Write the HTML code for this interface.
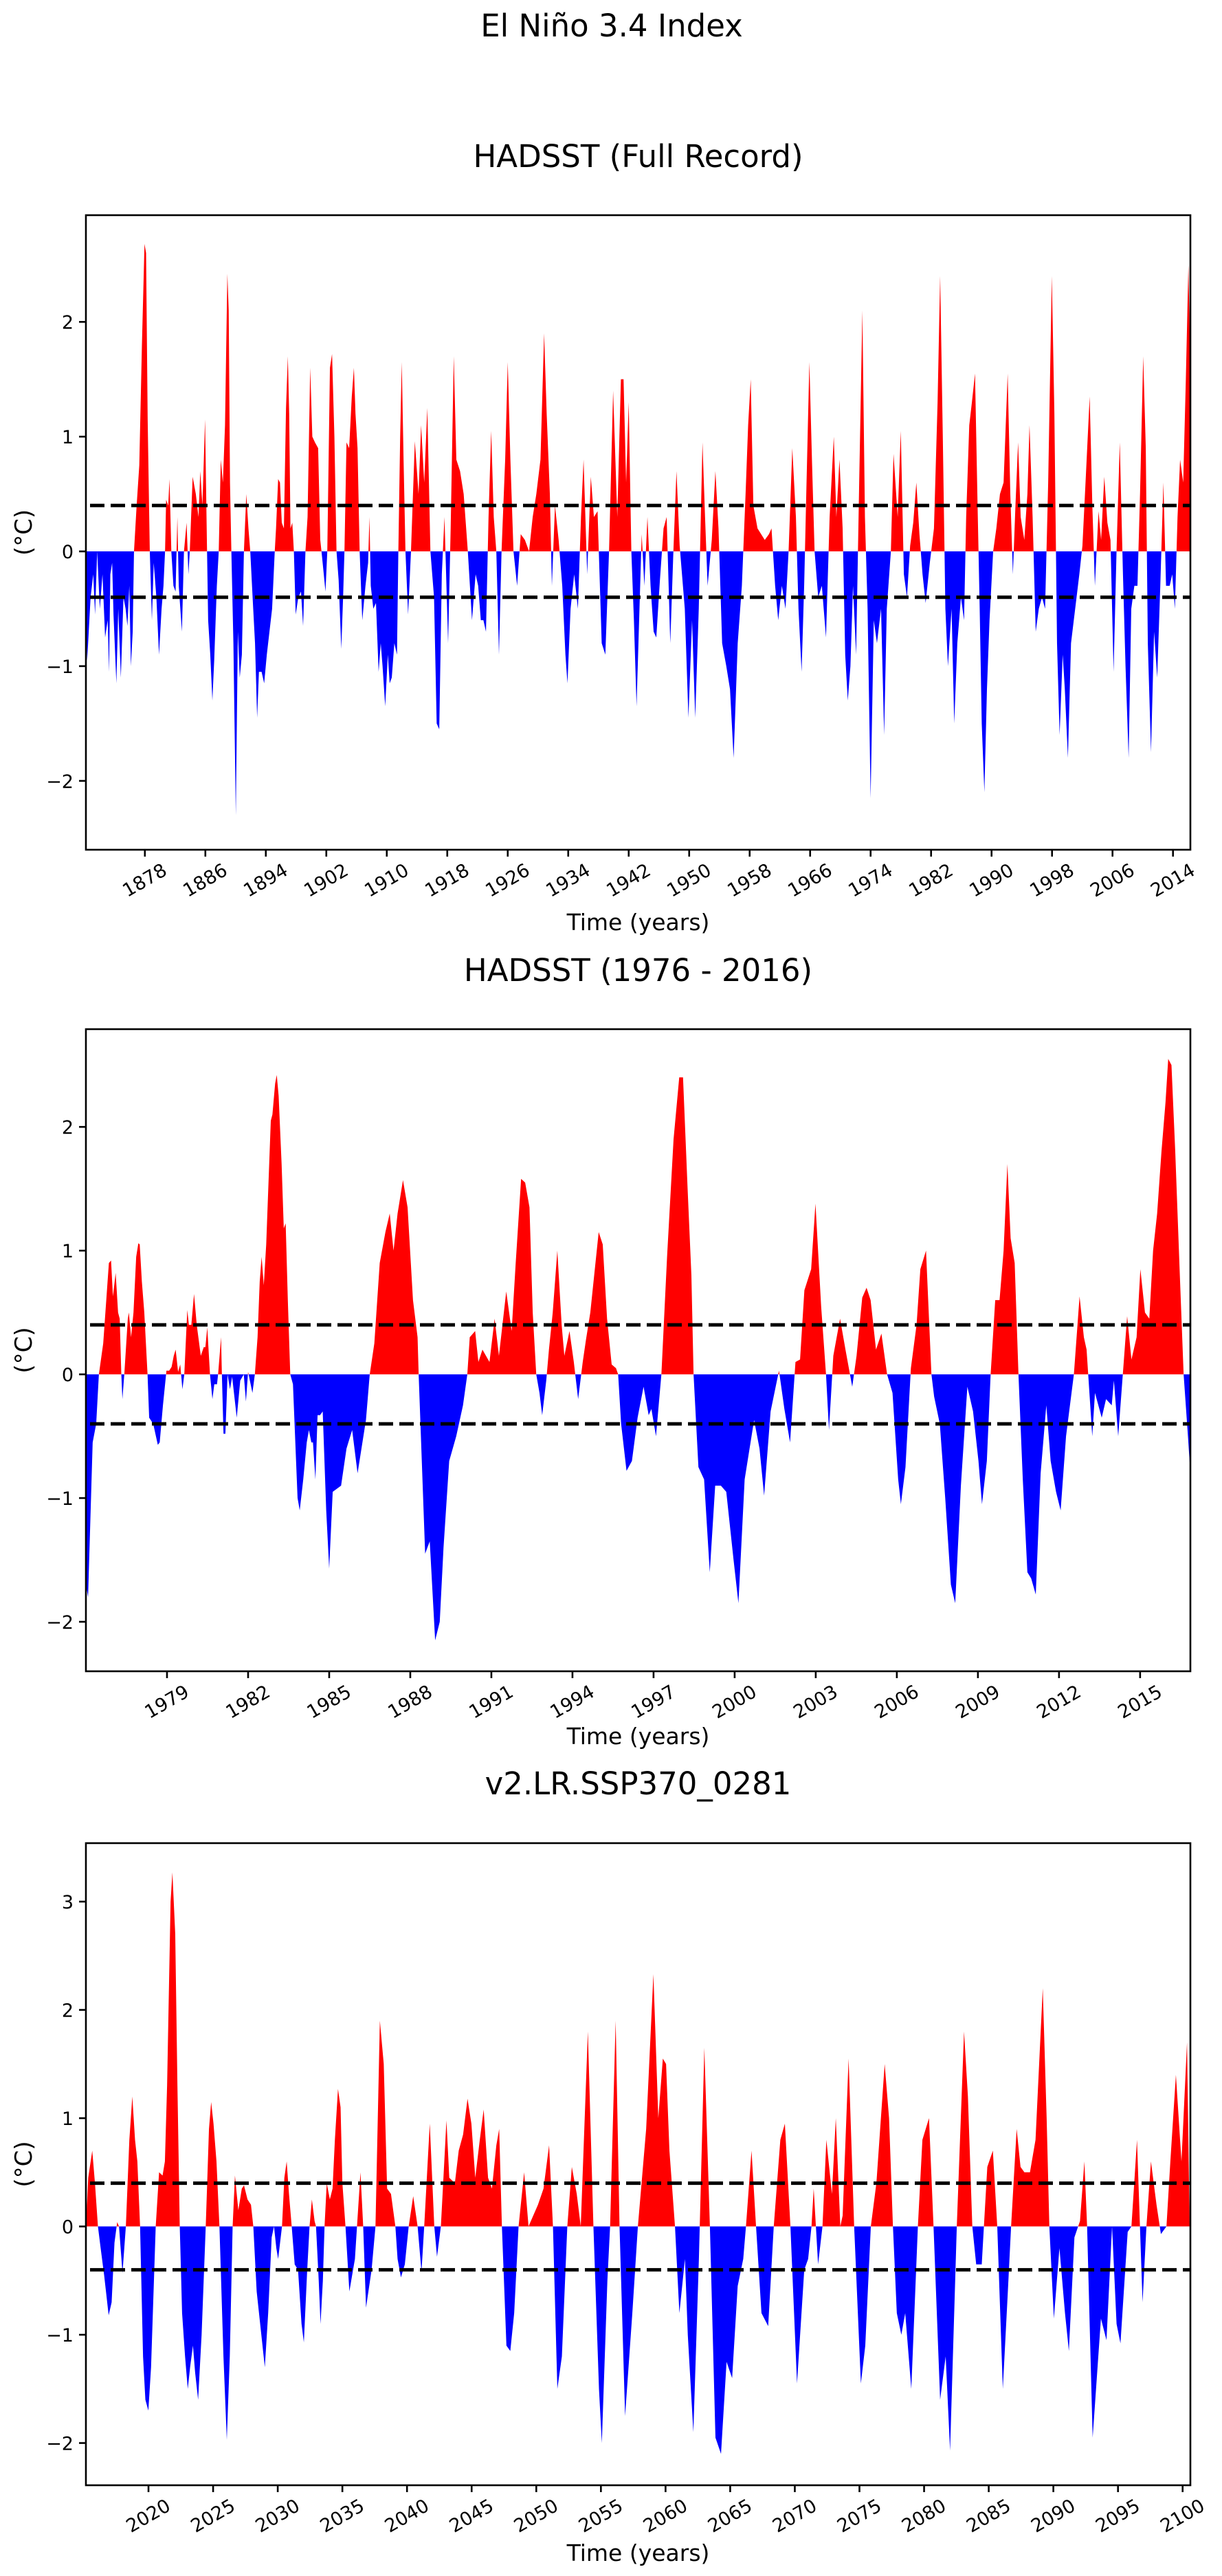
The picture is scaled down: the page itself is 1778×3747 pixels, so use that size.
<!DOCTYPE html>
<html>
<head>
<meta charset="utf-8">
<style>
  html, body { margin: 0; padding: 0; background: #fff; }
  svg { display: block; font-family: "DejaVu Sans", "Liberation Sans", sans-serif; }
</style>
</head>
<body>
<svg id="fig" width="1778" height="3747" viewBox="0 0 1778 3747" xmlns="http://www.w3.org/2000/svg">
  <rect x="0" y="0" width="1778" height="3747" fill="#fff"/>
  <text x="890" y="53" font-size="45" text-anchor="middle">El Niño 3.4 Index</text>
</svg>
<script>
// ---------- Panel 1: HADSST full record ----------
const p1Years = [1870.16,1870.37,1870.82,1871.17,1871.41,1871.69,1872.04,1872.39,1872.74,1873.08,1873.26,1873.43,1873.67,1873.85,1874.23,1874.48,1874.82,1875.17,1875.45,1875.69,1875.94,1876.15,1876.39,1876.56,1876.91,1877.26,1877.61,1877.95,1878.16,1878.37,1878.65,1878.93,1879.17,1879.52,1879.87,1880.21,1880.46,1880.67,1880.81,1881.09,1881.26,1881.5,1881.78,1882.06,1882.3,1882.48,1882.9,1883.17,1883.52,1883.76,1883.94,1884.32,1884.74,1885.09,1885.33,1885.61,1885.96,1886.2,1886.37,1886.65,1886.93,1887.17,1887.52,1887.77,1888.04,1888.32,1888.6,1888.91,1889.09,1889.26,1889.44,1889.71,1890.03,1890.3,1890.55,1890.83,1891.1,1891.42,1891.7,1891.94,1892.29,1892.57,1892.85,1893.09,1893.44,1893.78,1894.13,1894.48,1894.83,1895.18,1895.35,1895.63,1895.87,1896.11,1896.39,1896.67,1896.91,1897.09,1897.26,1897.5,1897.71,1897.95,1898.3,1898.65,1898.93,1899.24,1899.52,1899.87,1900.15,1900.5,1900.92,1901.2,1901.44,1901.89,1902.13,1902.48,1902.76,1903.07,1903.35,1903.63,1903.98,1904.22,1904.4,1904.67,1905.02,1905.37,1905.65,1905.86,1906.13,1906.41,1906.76,1907.18,1907.53,1907.71,1907.88,1908.22,1908.57,1908.92,1909.2,1909.44,1909.79,1910.14,1910.38,1910.66,1911.0,1911.35,1911.53,1911.77,1911.98,1912.22,1912.47,1912.82,1913.2,1913.71,1914.2,1914.54,1914.95,1915.36,1915.77,1916.25,1916.6,1916.94,1917.28,1917.63,1918.11,1918.45,1918.86,1919.2,1919.69,1920.17,1920.72,1921.27,1921.75,1922.09,1922.44,1922.78,1923.12,1923.46,1923.81,1924.15,1924.49,1924.84,1925.18,1925.66,1926.0,1926.35,1926.76,1927.24,1927.72,1928.27,1928.82,1929.3,1929.78,1930.33,1930.81,1931.15,1931.57,1931.84,1932.25,1932.73,1933.21,1933.63,1933.9,1934.31,1934.79,1935.28,1935.69,1936.03,1936.51,1936.99,1937.4,1937.88,1938.43,1938.91,1939.4,1939.94,1940.49,1940.97,1941.32,1941.66,1942.0,1942.35,1942.69,1943.04,1943.38,1943.72,1944.07,1944.48,1944.89,1945.3,1945.65,1946.13,1946.61,1947.02,1947.5,1947.91,1948.32,1948.74,1949.42,1949.9,1950.38,1950.8,1951.27,1951.76,1952.1,1952.44,1952.99,1953.47,1953.88,1954.36,1954.91,1955.4,1955.88,1956.42,1956.97,1957.46,1957.8,1958.14,1958.49,1959.04,1959.52,1960.0,1960.55,1960.89,1961.37,1961.78,1962.26,1962.74,1963.15,1963.64,1964.12,1964.46,1964.87,1965.21,1965.49,1965.9,1966.24,1966.59,1967.07,1967.55,1968.1,1968.58,1969.13,1969.47,1969.88,1970.3,1970.64,1970.98,1971.33,1971.67,1972.08,1972.49,1972.91,1973.25,1973.6,1974.0,1974.42,1974.84,1975.38,1975.79,1976.14,1976.68,1977.03,1977.58,1977.99,1978.4,1978.81,1979.23,1979.64,1980.05,1980.46,1980.87,1981.28,1981.83,1982.38,1982.86,1983.2,1983.55,1983.89,1984.23,1984.71,1985.06,1985.47,1985.95,1986.36,1986.64,1987.05,1987.4,1987.81,1988.15,1988.43,1988.7,1989.05,1989.39,1989.73,1990.21,1990.63,1991.11,1991.59,1992.13,1992.48,1992.82,1993.16,1993.51,1993.85,1994.33,1994.74,1995.02,1995.43,1995.84,1996.25,1996.67,1997.08,1997.49,1997.97,1998.31,1998.66,1999.0,1999.41,1999.69,2000.1,2000.51,2001.06,2001.61,2002.02,2002.43,2002.98,2003.33,2003.67,2004.15,2004.49,2004.91,2005.32,2005.73,2006.14,2006.55,2006.96,2007.38,2007.72,2008.13,2008.48,2008.89,2009.3,2009.64,2010.06,2010.4,2010.67,2011.09,2011.5,2011.91,2012.32,2012.73,2013.08,2013.56,2013.9,2014.25,2014.6,2014.94,2015.35,2015.7,2016.04,2016.3];
const p1Values = [-0.5,-0.95,-0.4,-0.2,-0.55,0,-0.5,-0.2,-0.75,-0.6,-1.05,-0.2,-0.1,-0.55,-1.15,-0.5,-1.1,-0.4,-0.5,-0.65,-0.3,-1.0,-0.7,0,0.4,0.75,1.8,2.68,2.6,1.15,0,-0.6,-0.1,-0.4,-0.9,-0.5,-0.3,0,0.45,0.4,0.63,0,-0.3,-0.35,0.3,-0.3,-0.7,0,0.25,-0.2,0,0.65,0.5,0.3,0.7,0.4,1.15,0.1,-0.6,-0.9,-1.3,-0.95,-0.3,0,0.8,0.6,1.1,2.42,2.1,0.6,0,-0.8,-2.3,-0.7,-1.1,-0.9,0,0.5,0.2,0,-0.45,-0.8,-1.45,-1.05,-1.05,-1.15,-0.9,-0.7,-0.5,0,0.2,0.63,0.6,0.25,0.2,1.25,1.7,1.2,0.2,0.25,0,-0.55,-0.4,-0.35,-0.65,0,0.3,1.6,1.0,0.95,0.9,0.1,-0.05,-0.35,0,1.6,1.72,1.0,0,-0.25,-0.85,-0.4,0,0.95,0.9,1.35,1.6,1.2,0.9,0,-0.6,-0.3,-0.1,0.3,-0.3,-0.5,-0.45,-1.05,-0.8,-1.0,-1.35,-0.9,-1.15,-1.1,-0.8,-0.9,0,1.0,1.65,0.8,0,-0.55,0,0.96,0.5,1.1,0.6,1.25,0,-0.4,-1.5,-1.55,-0.2,0.3,-0.8,0.2,1.7,0.8,0.7,0.5,0,-0.6,-0.2,-0.3,-0.6,-0.6,-0.7,0.3,1.05,0.3,0,-0.9,0,0.8,1.65,0.8,0,-0.3,0.15,0.1,0,0.3,0.5,0.8,1.9,1.2,0.5,-0.3,0.4,0.1,-0.3,-0.9,-1.15,-0.5,-0.2,-0.5,0.3,0.8,-0.2,0.65,0.3,0.35,-0.8,-0.9,0,1.4,0.3,1.5,1.5,0.6,1.3,0,-0.6,-1.35,-0.6,0.15,-0.3,0.3,-0.3,-0.7,-0.75,-0.25,0.2,0.3,-0.8,0,0.7,0.05,-0.5,-1.45,-0.6,-1.45,-0.5,0.95,0.3,-0.3,0.1,0.7,0.2,-0.8,-1.0,-1.2,-1.8,-0.8,-0.3,0.5,1.1,1.5,0.4,0.2,0.15,0.1,0.15,0.2,-0.3,-0.6,-0.3,-0.5,0,0.9,0.3,-0.5,-1.05,-0.3,0.5,1.65,0.8,0,-0.4,-0.3,-0.75,0.3,1.0,0.3,0.8,0.2,-0.9,-1.3,-1.0,-0.3,-0.9,0.6,2.1,0.3,-0.5,-2.15,-0.6,-0.8,-0.5,-1.6,-0.5,0,0.85,0.3,1.05,-0.2,-0.4,0.05,0.25,0.6,0.15,-0.2,-0.45,-0.1,0.2,1.3,2.4,1.0,-0.5,-1.0,-0.5,-1.5,-0.8,-0.4,-0.6,0.3,1.1,1.3,1.55,0.4,-0.5,-1.5,-2.1,-1.2,-0.6,0,0.2,0.5,0.6,1.55,0.5,-0.2,0.4,0.95,0.3,0.1,0.5,1.1,0.3,-0.7,-0.5,-0.4,-0.5,0.6,2.4,1.2,-0.8,-1.6,-0.9,-1.2,-1.8,-0.8,-0.5,-0.2,0.05,0.6,1.35,0.4,-0.3,0.35,0.1,0.65,0.25,0.1,-1.05,0.05,0.95,-0.2,-1.0,-1.8,-0.5,-0.3,-0.3,0.5,1.7,0.9,-0.8,-1.75,-0.7,-1.1,-0.3,0.6,-0.3,-0.3,-0.2,-0.5,0.3,0.8,0.6,1.5,2.5,1.6];
const p1Ticks = [1878,1886,1894,1902,1910,1918,1926,1934,1942,1950,1958,1966,1974,1982,1990,1998,2006,2014];
const p1YTicks = [-2,-1,0,1,2];

// ---------- Panel 2: HADSST 1976-2016 ----------
const p2Years = [1976.0,1976.08,1976.25,1976.38,1976.48,1976.64,1976.85,1976.93,1977.0,1977.1,1977.19,1977.25,1977.31,1977.35,1977.42,1977.55,1977.59,1977.67,1977.76,1977.86,1977.94,1977.99,1978.07,1978.16,1978.28,1978.34,1978.49,1978.66,1978.73,1978.85,1978.98,1979.08,1979.17,1979.25,1979.32,1979.41,1979.49,1979.57,1979.64,1979.75,1979.81,1979.9,1980.0,1980.1,1980.25,1980.36,1980.42,1980.49,1980.59,1980.68,1980.75,1980.85,1980.89,1981.0,1981.03,1981.09,1981.16,1981.24,1981.33,1981.41,1981.58,1981.71,1981.84,1981.92,1982.0,1982.16,1982.25,1982.35,1982.43,1982.5,1982.58,1982.67,1982.84,1982.9,1983.0,1983.06,1983.13,1983.24,1983.32,1983.39,1983.47,1983.56,1983.66,1983.83,1983.91,1984.04,1984.17,1984.25,1984.34,1984.4,1984.49,1984.57,1984.66,1984.76,1984.89,1985.0,1985.13,1985.44,1985.64,1985.85,1986.05,1986.36,1986.5,1986.67,1986.87,1987.08,1987.24,1987.38,1987.53,1987.73,1987.9,1988.1,1988.27,1988.31,1988.55,1988.72,1988.92,1989.09,1989.23,1989.44,1989.7,1989.95,1990.11,1990.2,1990.4,1990.52,1990.67,1990.93,1991.12,1991.28,1991.55,1991.75,1991.9,1992.1,1992.25,1992.41,1992.53,1992.66,1992.78,1992.88,1993.03,1993.13,1993.27,1993.44,1993.6,1993.7,1993.89,1994.05,1994.21,1994.38,1994.5,1994.66,1994.97,1995.12,1995.28,1995.45,1995.61,1995.69,1995.8,1996.0,1996.2,1996.41,1996.63,1996.82,1996.92,1997.09,1997.29,1997.5,1997.74,1997.95,1998.09,1998.26,1998.4,1998.48,1998.66,1998.87,1999.08,1999.28,1999.49,1999.69,1999.96,2000.14,2000.37,2000.72,2000.92,2001.09,2001.33,2001.64,2001.84,2002.05,2002.25,2002.42,2002.58,2002.83,2002.99,2003.2,2003.38,2003.49,2003.65,2003.9,2004.1,2004.35,2004.51,2004.72,2004.88,2005.03,2005.23,2005.43,2005.64,2005.84,2006.05,2006.15,2006.32,2006.52,2006.73,2006.87,2007.08,2007.28,2007.38,2007.59,2007.79,2008.0,2008.16,2008.37,2008.61,2008.82,2009.02,2009.15,2009.33,2009.47,2009.64,2009.8,2009.95,2010.09,2010.21,2010.36,2010.5,2010.66,2010.83,2010.97,2011.14,2011.32,2011.53,2011.69,2011.89,2012.06,2012.26,2012.55,2012.76,2012.92,2013.02,2013.08,2013.23,2013.33,2013.58,2013.74,2013.95,2014.03,2014.19,2014.36,2014.52,2014.68,2014.87,2015.01,2015.18,2015.34,2015.48,2015.63,2015.79,2015.94,2016.04,2016.16,2016.3,2016.47,2016.61,2016.77,2016.86];
const p2Values = [-1.7,-1.8,-0.55,-0.4,0,0.25,0.9,0.92,0.63,0.82,0.5,0.45,0,-0.2,0,0.45,0.5,0.3,0.5,0.95,1.06,1.05,0.75,0.5,0,-0.35,-0.4,-0.57,-0.55,-0.25,0.03,0.03,0.06,0.15,0.2,0.02,0.08,-0.12,0,0.52,0.4,0.4,0.65,0.4,0.15,0.22,0.22,0.38,0,-0.2,-0.08,-0.08,0,0.3,0,-0.48,-0.48,0,-0.12,-0.02,-0.35,-0.05,0,-0.22,0.02,-0.15,0,0.3,0.75,0.95,0.72,1.05,2.05,2.1,2.35,2.42,2.25,1.7,1.18,1.22,0.6,0,-0.08,-1.0,-1.1,-0.85,-0.55,-0.45,-0.55,-0.55,-0.85,-0.33,-0.33,-0.3,-1.1,-1.57,-0.95,-0.9,-0.6,-0.45,-0.8,-0.37,0,0.25,0.9,1.15,1.3,1.0,1.3,1.57,1.35,0.6,0.3,0,-1.45,-1.35,-2.15,-2.0,-1.4,-0.7,-0.5,-0.25,0,0.3,0.35,0.1,0.2,0.1,0.45,0.15,0.67,0.35,0.9,1.58,1.55,1.35,0.5,0,-0.15,-0.33,-0.05,0.2,0.5,1.0,0.4,0.15,0.35,0.1,-0.2,0.1,0.28,0.5,1.15,1.05,0.45,0.08,0.05,0,-0.4,-0.78,-0.7,-0.35,-0.1,-0.33,-0.28,-0.5,0,0.95,1.9,2.4,2.4,1.5,0.8,0,-0.75,-0.85,-1.6,-0.9,-0.9,-0.95,-1.5,-1.85,-0.85,-0.37,-0.6,-0.98,-0.3,0.03,-0.28,-0.55,0.1,0.12,0.68,0.85,1.38,0.55,0,-0.45,0.15,0.45,0.2,-0.1,0.15,0.62,0.7,0.6,0.2,0.33,0,-0.15,-0.85,-1.05,-0.75,0.05,0.4,0.85,1.0,0,-0.18,-0.4,-1.0,-1.7,-1.85,-0.9,-0.1,-0.3,-0.7,-1.05,-0.7,0,0.6,0.6,1.0,1.7,1.1,0.9,0,-0.85,-1.6,-1.65,-1.78,-0.8,-0.25,-0.7,-0.95,-1.1,-0.5,0,0.63,0.3,0.2,0,-0.5,-0.15,-0.35,-0.2,-0.25,-0.05,-0.5,0,0.47,0.12,0.3,0.85,0.5,0.45,1.0,1.3,1.8,2.2,2.55,2.5,1.8,0.8,0,-0.5,-0.8];
const p2Ticks = [1979,1982,1985,1988,1991,1994,1997,2000,2003,2006,2009,2012,2015];
const p2YTicks = [-2,-1,0,1,2];

// ---------- Panel 3: v2.LR.SSP370_0281 ----------
const p3Years = [2015.16,2015.34,2015.65,2015.86,2016.09,2016.3,2016.57,2016.92,2017.15,2017.37,2017.58,2017.72,2017.99,2018.25,2018.52,2018.75,2018.96,2019.14,2019.35,2019.58,2019.76,2019.99,2020.2,2020.56,2020.82,2021.09,2021.27,2021.44,2021.71,2021.85,2022.07,2022.24,2022.42,2022.6,2022.83,2023.04,2023.22,2023.44,2023.61,2023.84,2024.11,2024.43,2024.68,2024.85,2025.03,2025.26,2025.49,2025.8,2026.06,2026.29,2026.51,2026.69,2026.95,2027.22,2027.39,2027.66,2027.93,2028.11,2028.37,2028.64,2029.0,2029.26,2029.53,2029.71,2029.89,2030.03,2030.33,2030.51,2030.69,2030.87,2031.08,2031.31,2031.57,2031.84,2032.02,2032.28,2032.46,2032.64,2032.85,2032.96,2033.17,2033.31,2033.49,2033.62,2033.79,2034.03,2034.24,2034.42,2034.66,2034.86,2035.0,2035.24,2035.54,2035.97,2036.4,2036.61,2036.83,2037.26,2037.56,2037.9,2038.2,2038.46,2038.76,2039.1,2039.27,2039.53,2039.83,2040.13,2040.48,2040.82,2041.12,2041.33,2041.76,2042.11,2042.32,2042.62,2043.05,2043.27,2043.7,2044.0,2044.34,2044.68,2044.98,2045.28,2045.63,2045.93,2046.27,2046.57,2046.91,2047.13,2047.34,2047.69,2047.99,2048.29,2048.63,2049.06,2049.4,2050.13,2050.56,2050.99,2051.29,2051.63,2051.98,2052.4,2052.75,2053.13,2053.44,2053.99,2054.42,2054.85,2055.07,2055.5,2055.71,2056.14,2056.44,2056.87,2057.43,2057.86,2058.5,2059.06,2059.44,2059.79,2060.04,2060.3,2060.73,2061.07,2061.5,2061.72,2062.15,2062.58,2063.0,2063.43,2063.86,2064.29,2064.72,2065.15,2065.58,2066.01,2066.22,2066.65,2067.0,2067.42,2067.94,2068.37,2068.88,2069.23,2069.66,2070.17,2070.73,2071.03,2071.29,2071.46,2071.8,2072.14,2072.44,2072.87,2073.17,2073.52,2073.7,2074.16,2074.59,2075.11,2075.45,2075.88,2076.31,2076.95,2077.29,2077.59,2077.89,2078.24,2078.54,2079.01,2079.52,2079.87,2080.38,2080.73,2081.24,2081.67,2082.01,2082.53,2083.09,2083.39,2083.73,2084.03,2084.46,2084.89,2085.32,2085.66,2086.09,2086.48,2086.73,2087.16,2087.46,2087.76,2088.19,2088.62,2089.18,2089.48,2089.69,2090.04,2090.47,2090.9,2091.2,2091.63,2092.06,2092.4,2092.61,2093.04,2093.68,2094.11,2094.54,2094.89,2095.19,2095.75,2096.04,2096.47,2096.9,2097.2,2097.55,2097.98,2098.32,2098.75,2099.05,2099.48,2099.91,2100.34,2100.6];
const p3Values = [0,0.45,0.7,0.4,0,-0.2,-0.45,-0.82,-0.7,-0.15,0.04,0,-0.43,0,0.8,1.2,0.8,0.6,0,-1.2,-1.6,-1.7,-1.3,0,0.5,0.47,0.6,1.3,3.0,3.27,2.7,1.3,0,-0.8,-1.2,-1.5,-1.3,-1.1,-1.35,-1.6,-1.0,0,0.9,1.15,0.95,0.6,0,-1.2,-1.97,-1.2,0,0.47,0.15,0.35,0.38,0.25,0.2,0,-0.6,-0.9,-1.3,-0.8,-0.1,0.0,-0.2,-0.3,0,0.45,0.6,0.3,0,-0.35,-0.4,-0.9,-1.07,-0.4,0,0.25,0.05,0,-0.5,-0.9,-0.5,0,0.4,0.25,0.35,0.8,1.27,1.1,0.4,0,-0.6,-0.3,0.5,0,-0.75,-0.4,0,1.9,1.5,0.35,0.3,0,-0.3,-0.47,-0.35,0,0.28,0,-0.42,0,0.95,0,-0.28,0,0.98,0.45,0.4,0.7,0.85,1.18,0.95,0.45,0.8,1.08,0.45,0.35,0.75,0.9,0,-1.1,-1.15,-0.8,0,0.5,0,0.2,0.35,0.75,0,-1.5,-1.2,0,0.55,0.3,0,1.8,0,-1.5,-2.0,-0.5,0,1.9,0,-1.75,-0.8,0,0.9,2.33,1.0,1.55,1.5,0.7,0,-0.8,-0.3,-1.0,-1.9,-0.3,1.65,0,-1.95,-2.1,-1.25,-1.4,-0.55,-0.3,0,0.7,0,-0.8,-0.92,0,0.8,0.95,0,-1.45,-0.4,-0.3,0,0.35,-0.35,0,0.8,0.3,1.0,0,0.1,1.55,0,-1.45,-1.1,0,0.4,1.5,1.0,0,-0.8,-1.0,-0.8,-1.5,0,0.8,1.0,0,-1.6,-1.2,-2.07,0,1.8,1.2,0,-0.35,-0.35,0.55,0.7,0,-1.5,-0.6,0,0.9,0.55,0.5,0.5,0.8,2.2,1.0,0,-0.85,-0.2,-0.8,-1.15,-0.1,0.05,0.6,0,-1.95,-0.85,-1.05,0,-0.9,-1.08,-0.05,0,0.8,-0.7,0,0.6,0.2,-0.07,0,0.6,1.4,0.6,1.7,-0.5];
const p3Ticks = [2020,2025,2030,2035,2040,2045,2050,2055,2060,2065,2070,2075,2080,2085,2090,2095,2100];
const p3YTicks = [-2,-1,0,1,2,3];

const thresholds = [0.4, -0.4];

const NS = 'http://www.w3.org/2000/svg';
const svg = document.getElementById('fig');

function mk(tag, attrs, parent) {
  const e = document.createElementNS(NS, tag);
  for (const k in attrs) e.setAttribute(k, attrs[k]);
  (parent || svg).appendChild(e);
  return e;
}

function drawPanel(cfg, years, values, ticks, yticks) {
  const g = mk('g', {});
  
  
  const xs = t => cfg.left + (t - cfg.x0) / (cfg.x1 - cfg.x0) * (cfg.right - cfg.left);
  const ys = v => cfg.bottom - (v - cfg.y0) / (cfg.y1 - cfg.y0) * (cfg.bottom - cfg.top);
  const clipId = cfg.name + '-clip';
  const cp = mk('clipPath', {id: clipId}, g);
  mk('rect', {x: cfg.left, y: cfg.top, width: cfg.right - cfg.left, height: cfg.bottom - cfg.top}, cp);

  const pts = [];
  for (let i = 0; i < years.length; i++) {
    if (i > 0) {
      const a = values[i - 1], b = values[i];
      if ((a > 0 && b < 0) || (a < 0 && b > 0)) {
        const t = years[i - 1] + (years[i] - years[i - 1]) * (a / (a - b));
        pts.push([t, 0]);
      }
    }
    pts.push([years[i], values[i]]);
  }
  const y0 = ys(0);
  function areaPath(sign) {
    let d = 'M' + xs(pts[0][0]).toFixed(2) + ',' + y0.toFixed(2);
    for (const p of pts) {
      const v = sign > 0 ? Math.max(p[1], 0) : Math.min(p[1], 0);
      d += 'L' + xs(p[0]).toFixed(2) + ',' + ys(v).toFixed(2);
    }
    d += 'L' + xs(pts[pts.length - 1][0]).toFixed(2) + ',' + y0.toFixed(2) + 'Z';
    return d;
  }
  const pos = mk('path', {d: areaPath(1), fill: '#ff0000', 'clip-path': 'url(#' + clipId + ')'}, g);
  
  
  const neg = mk('path', {d: areaPath(-1), fill: '#0000ff', 'clip-path': 'url(#' + clipId + ')'}, g);
  
  

  thresholds.forEach(th => {
    const l = mk('line', {x1: cfg.left, x2: cfg.right, y1: ys(th), y2: ys(th), stroke: '#000', 'stroke-width': 5, 'stroke-dasharray': '21 9', 'stroke-dashoffset': '-6'}, g);
    
    
  });

  const fr = mk('rect', {x: cfg.left, y: cfg.top, width: cfg.right - cfg.left, height: cfg.bottom - cfg.top, fill: 'none', stroke: '#000', 'stroke-width': 2.6}, g);
  
  

  ticks.forEach(t => {
    const x = xs(t);
    const tk = mk('line', {x1: x, x2: x, y1: cfg.bottom, y2: cfg.bottom + 10, stroke: '#000', 'stroke-width': 2.6}, g);
    
    
    const cy = cfg.bottom + 45;
    const tx = mk('text', {x: x, y: cy, 'font-size': 27, 'text-anchor': 'middle', 'dominant-baseline': 'central', transform: 'rotate(-30 ' + x + ' ' + cy + ')'}, g);
    tx.textContent = String(t);
    
    
  });
  yticks.forEach(v => {
    const y = ys(v);
    const tk = mk('line', {x1: cfg.left - 10, x2: cfg.left, y1: y, y2: y, stroke: '#000', 'stroke-width': 2.6}, g);
    
    
    const tx = mk('text', {x: cfg.left - 18, y: y + 10, 'font-size': 27, 'text-anchor': 'end'}, g);
    tx.textContent = v < 0 ? '\u2212' + Math.abs(v) : String(v);
    
    
  });
  const cx = (cfg.left + cfg.right) / 2;
  const ti = mk('text', {x: cx, y: cfg.titleY, 'font-size': 45, 'text-anchor': 'middle'}, g);
  ti.textContent = cfg.title;
  
  
  const xl = mk('text', {x: cx, y: cfg.xlabelY, 'font-size': 33, 'text-anchor': 'middle'}, g);
  xl.textContent = 'Time (years)';
  
  
  const cyl = (cfg.top + cfg.bottom) / 2;
  const yl = mk('text', {x: 35, y: cyl, 'font-size': 34, 'text-anchor': 'middle', 'dominant-baseline': 'central', transform: 'rotate(-90 35 ' + cyl + ')'}, g);
  yl.textContent = '(°C)';
  
  
}

drawPanel({name: 'hadsst-full', title: 'HADSST (Full Record)', left: 125, right: 1732, top: 313, bottom: 1236, x0: 1870.2, x1: 2016.3, y0: -2.6, y1: 2.93, titleY: 243, xlabelY: 1353}, p1Years, p1Values, p1Ticks, p1YTicks);
drawPanel({name: 'hadsst-1976-2016', title: 'HADSST (1976 - 2016)', left: 125, right: 1732, top: 1497, bottom: 2431, x0: 1976.0, x1: 2016.86, y0: -2.4, y1: 2.79, titleY: 1427, xlabelY: 2537}, p2Years, p2Values, p2Ticks, p2YTicks);
drawPanel({name: 'ssp370', title: 'v2.LR.SSP370_0281', left: 125, right: 1732, top: 2681, bottom: 3615, x0: 2015.16, x1: 2100.6, y0: -2.39, y1: 3.54, titleY: 2610, xlabelY: 3725}, p3Years, p3Values, p3Ticks, p3YTicks);
</script>
</body>
</html>
